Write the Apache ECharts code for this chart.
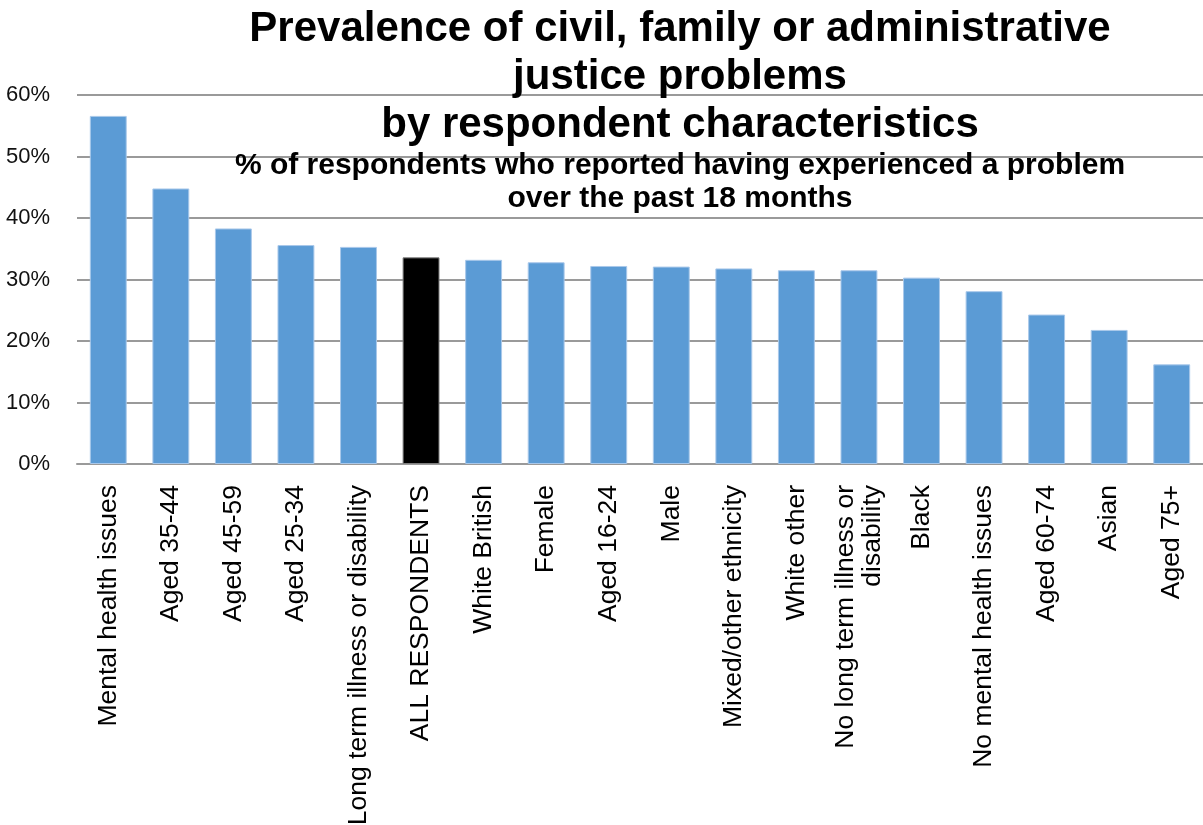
<!DOCTYPE html>
<html>
<head>
<meta charset="utf-8">
<script src="https://cdn.jsdelivr.net/npm/echarts@6/dist/echarts.min.js"></script>
<style>html,body{margin:0;padding:0;background:#fff}#c{width:1203px;height:825px}</style>
</head>
<body>
<div id="c"></div>
<script>
const categories = ["Mental health issues","Aged 35-44","Aged 45-59","Aged 25-34","Long term illness or disability","ALL RESPONDENTS","White British","Female","Aged 16-24","Male","Mixed/other ethnicity","White other","No long term illness or\ndisability","Black","No mental health issues","Aged 60-74","Asian","Aged 75+"];
const values = [56.6,44.8,38.3,35.6,35.3,33.6,33.2,32.8,32.2,32.1,31.8,31.5,31.5,30.3,28.1,24.3,21.8,16.2];
const highlightCategory = "ALL RESPONDENTS";
const yTicks = [0,10,20,30,40,50,60];
const titleLines = ["Prevalence of civil, family or administrative","justice problems","by respondent characteristics"];
const subtitleLines = ["% of respondents who reported having experienced a problem","over the past 18 months"];

const chart = echarts.init(document.getElementById('c'));
const font = '"Liberation Sans", Arial, sans-serif';
chart.setOption({
  animation: false,
  backgroundColor: '#fff',
  title: [
    {text: titleLines.join('\n'), left: 675, top: 0, textAlign: 'center', z: 10,
     textStyle: {fontFamily: font, fontWeight: 'bold', fontSize: 42, lineHeight: 48, color: '#000'}},
    {text: subtitleLines.join('\n'), left: 675, top: 144, textAlign: 'center', z: 10,
     textStyle: {fontFamily: font, fontWeight: 'bold', fontSize: 30, lineHeight: 33, color: '#000'}}
  ],
  grid: {left: 77, right: 0, top: 95, bottom: 361, containLabel: false, outerBoundsMode: 'none'},
  xAxis: {
    type: 'category', data: categories,
    axisLine: {lineStyle: {color: '#9a9a9a', width: 2}},
    axisTick: {show: false},
    axisLabel: {rotate: 90, interval: 0, margin: 21, fontFamily: font, fontSize: 26.5, color: '#000', lineHeight: 27}
  },
  yAxis: {
    type: 'value', min: yTicks[0], max: yTicks[yTicks.length-1], interval: 10,
    axisLine: {show: false}, axisTick: {show: false},
    splitLine: {lineStyle: {color: '#9a9a9a', width: 2}},
    axisLabel: {formatter: v => v + '%', fontFamily: font, fontSize: 22, color: '#111', margin: 27}
  },
  series: [{
    type: 'bar', barWidth: '59%',
    data: values.map((v, i) => ({
      value: v,
      itemStyle: categories[i] === highlightCategory
        ? {color: '#000', borderColor: '#7f7f7f', borderWidth: 1}
        : {color: '#5b9bd5', borderColor: '#a9c8ea', borderWidth: 1}
    }))
  }]
});
</script>
</body>
</html>
